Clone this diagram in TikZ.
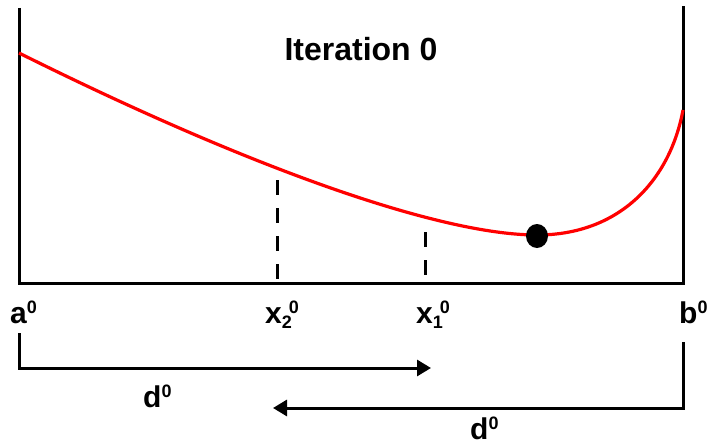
\documentclass[tikz,border=0pt]{standalone}
\usepackage{fontspec}
\setmainfont{Liberation Sans}
\usetikzlibrary{arrows.meta}
\newcommand\upz[1]{\raisebox{10pt}{\fontsize{18}{18}\selectfont\bfseries #1}}
\newcommand\dnz[1]{\raisebox{-5pt}{\fontsize{18}{18}\selectfont\bfseries #1}}
\begin{document}
\begin{tikzpicture}[x=1pt,y=-1pt,
  frame/.style={line width=3pt,black},
  curve/.style={line width=3.2pt,red},
  guide/.style={line width=3pt,black,dash pattern=on 15pt off 13pt},
  brack/.style={line width=3pt,black,line join=miter,-{Triangle[length=14pt,width=16pt]}},
  lab/.style={font=\fontsize{30}{30}\selectfont\bfseries,inner sep=0pt,anchor=base west},
  ]
\useasboundingbox (0,0) rectangle (709,444);
% frame
\coordinate (tl) at (19,8);
\coordinate (bl) at (19,283);
\coordinate (br) at (683,283);
\coordinate (tr) at (683,6);
\draw[frame] (tl) -- (bl) -- (br) -- (tr);
% title
\node[font=\fontsize{32}{32}\selectfont\bfseries,inner sep=0pt,anchor=base] (title) at (361,60) {Iteration 0};
% curve
\coordinate (c0) at (19,53);
\coordinate (cm) at (537,235);
\coordinate (c1) at (683,110);
\draw[curve] (c0) .. controls (250,168) and (440,235) .. (cm)
                  .. controls (620,235) and (670,180) .. (c1);
% minimum dot
\fill[black] (537,236) ellipse [x radius=11pt,y radius=12pt];
% dashed guides
\coordinate (g2t) at (277,180);
\coordinate (g2b) at (277,282);
\coordinate (g1t) at (425,232);
\coordinate (g1b) at (425,277);
\draw[guide] (g2t) -- (g2b);
\draw[guide] (g1t) -- (g1b);
% labels
\node[lab] (a) at (10,323) {a\upz{0}};
\node[lab] (x2) at (265,323) {x\dnz{2}\kern-3pt\upz{0}};
\node[lab] (x1) at (416,323) {x\dnz{1}\kern-3pt\upz{0}};
\node[lab] (b) at (679,323) {b\upz{0}};
\node[lab] (d1) at (143,407) {d\upz{0}};
\node[lab] (d2) at (470,439) {d\upz{0}};
% interval arrows
\coordinate (l1) at (19,333);
\coordinate (l2) at (19,368);
\coordinate (l3) at (431,368);
\coordinate (r1) at (683,342);
\coordinate (r2) at (683,408);
\coordinate (r3) at (273,408);
\draw[brack] (l1) -- (l2) -- (l3);
\draw[brack] (r1) -- (r2) -- (r3);
\end{tikzpicture}
\end{document}
